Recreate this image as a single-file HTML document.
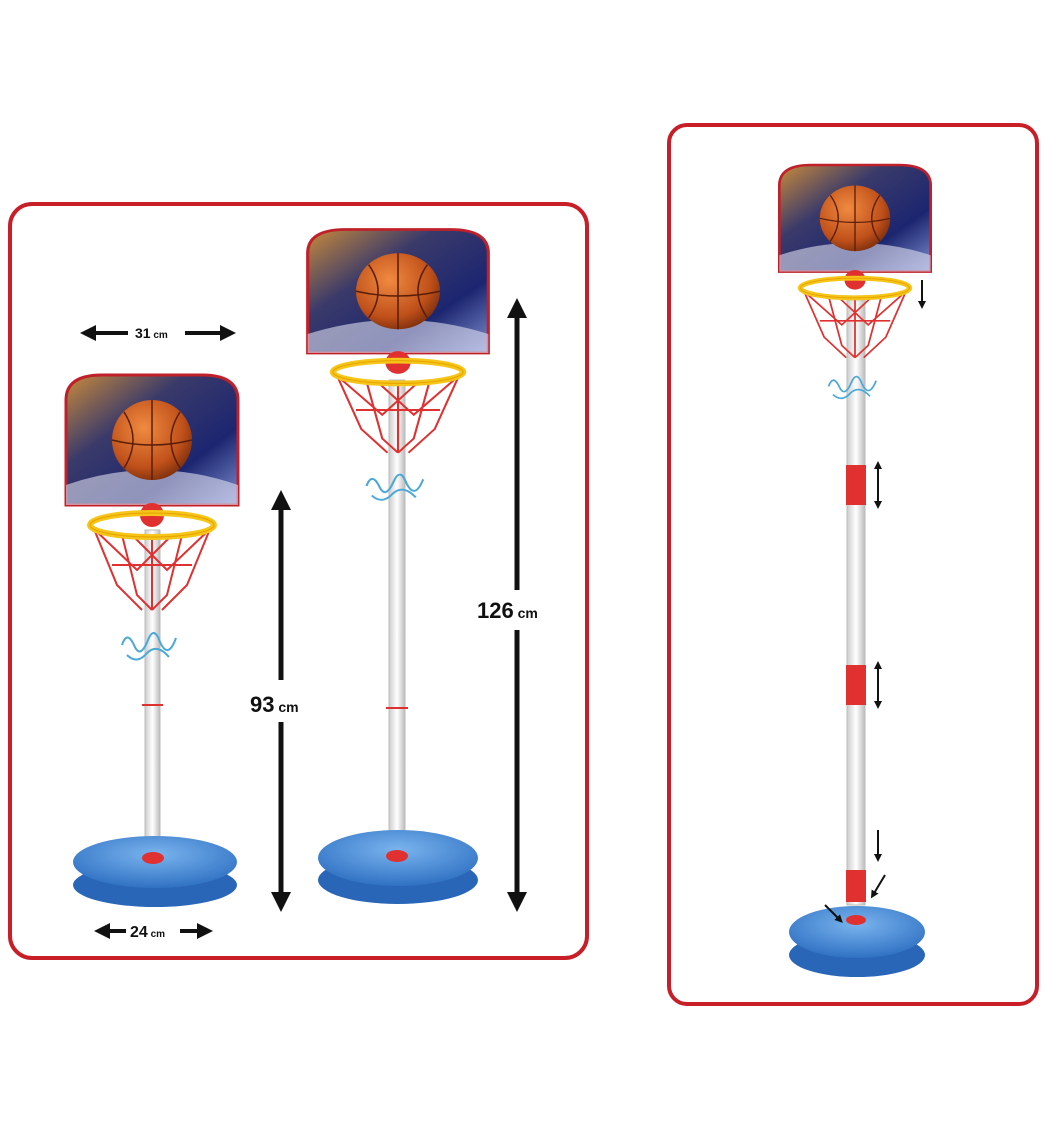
<!DOCTYPE html>
<html><head><meta charset="utf-8"><style>
html,body{margin:0;padding:0;background:#fff}
svg{display:block}
text{font-family:"Liberation Sans",sans-serif;font-weight:bold;fill:#111}
</style></head><body>
<svg width="1045" height="1140" viewBox="0 0 1045 1140" xmlns="http://www.w3.org/2000/svg">
<defs>
<linearGradient id="bb" x1="0" y1="0" x2="1" y2="1">
<stop offset="0" stop-color="#c98a3a"/><stop offset="0.35" stop-color="#3a3a6a"/><stop offset="0.7" stop-color="#1c2670"/><stop offset="1" stop-color="#7f8fd0"/></linearGradient>
<radialGradient id="ball" cx="0.4" cy="0.35" r="0.7"><stop offset="0" stop-color="#f08a40"/><stop offset="0.7" stop-color="#c0501a"/><stop offset="1" stop-color="#7a2e0c"/></radialGradient>
<linearGradient id="pole" x1="0" x2="1"><stop offset="0" stop-color="#ccc"/><stop offset="0.5" stop-color="#fff"/><stop offset="1" stop-color="#bbb"/></linearGradient>
<radialGradient id="base" cx="0.5" cy="0.35" r="0.7"><stop offset="0" stop-color="#7ab4ee"/><stop offset="1" stop-color="#2a6cc0"/></radialGradient>
<marker id="ah" viewBox="0 0 10 10" refX="5" refY="5" markerWidth="4" markerHeight="4" orient="auto-start-reverse"><path d="M0,0L10,5L0,10z" fill="#111"/></marker>
<g id="hoop">
<!-- centered at 0,0 = rim center; unit scale for width ~170 board -->
<path d="M-86,-20 L-86,-125 Q-86,-150 -50,-150 L50,-150 Q86,-150 86,-125 L86,-20 Z" fill="url(#bb)" stroke="#c0202a" stroke-width="3"/>
<path d="M-86,-40 Q0,-70 86,-40 L86,-20 L-86,-20Z" fill="#dde" opacity="0.6"/>
<circle cx="0" cy="-85" r="40" fill="url(#ball)"/>
<path d="M-40,-85 Q0,-75 40,-85 M0,-125 L0,-45 M-28,-113 Q-10,-85 -28,-57 M28,-113 Q10,-85 28,-57" stroke="#5a1e08" stroke-width="1.5" fill="none"/>
<circle cx="0" cy="-10" r="12" fill="#e03030"/>
<g stroke="#e03030" stroke-width="2" fill="none">
<path d="M-58,4 L-35,60 L-10,85 M-30,10 L-15,70 L0,85 M0,12 L0,85 M30,10 L15,70 L0,85 M58,4 L35,60 L10,85 M-58,4 L-15,45 L20,10 M58,4 L15,45 L-20,10 M-40,40 L40,40"/>
</g>
<ellipse cx="0" cy="0" rx="62" ry="12" fill="none" stroke="#f5c518" stroke-width="6"/>
<ellipse cx="0" cy="0" rx="62" ry="12" fill="none" stroke="#e8a000" stroke-width="1"/>
<path d="M-30,120 q5,-15 12,0 q6,15 14,-5 q6,-15 12,2 q8,18 16,-4 M-25,130 q10,10 20,-2 q10,-10 22,4" stroke="#4aa8d8" stroke-width="2" fill="none"/>
</g>
</defs>

<rect x="10" y="204" width="577" height="754" rx="22" fill="none" stroke="#c81e28" stroke-width="4"/>
<rect x="669" y="125" width="368" height="879" rx="18" fill="none" stroke="#c81e28" stroke-width="4"/>

<!-- left hoop -->
<rect x="145" y="530" width="15" height="315" fill="url(#pole)" stroke="#bbb"/>
<line x1="142" y1="705" x2="163" y2="705" stroke="#e03030" stroke-width="2"/>
<use href="#hoop" transform="translate(152,525)"/>
<ellipse cx="155" cy="885" rx="82" ry="22" fill="#2a66b8"/>
<ellipse cx="155" cy="862" rx="82" ry="26" fill="url(#base)"/>
<ellipse cx="153" cy="858" rx="11" ry="6" fill="#e03030"/>

<!-- middle hoop -->
<rect x="389" y="380" width="16" height="455" fill="url(#pole)" stroke="#bbb"/>
<line x1="386" y1="708" x2="408" y2="708" stroke="#e03030" stroke-width="2"/>
<use href="#hoop" transform="translate(398,372) scale(1.05,0.95)"/>
<ellipse cx="398" cy="880" rx="80" ry="24" fill="#2a66b8"/>
<ellipse cx="398" cy="858" rx="80" ry="28" fill="url(#base)"/>
<ellipse cx="397" cy="856" rx="11" ry="6" fill="#e03030"/>

<!-- dimension arrows -->
<line x1="281" y1="500" x2="281" y2="680" stroke="#111" stroke-width="5" marker-start="url(#ah)"/>
<line x1="281" y1="722" x2="281" y2="902" stroke="#111" stroke-width="5" marker-end="url(#ah)"/>
<text x="250" y="712" font-size="22">93<tspan font-size="14"> cm</tspan></text>
<line x1="517" y1="308" x2="517" y2="590" stroke="#111" stroke-width="5" marker-start="url(#ah)"/>
<line x1="517" y1="630" x2="517" y2="902" stroke="#111" stroke-width="5" marker-end="url(#ah)"/>
<text x="477" y="618" font-size="22">126<tspan font-size="14"> cm</tspan></text>
<line x1="88" y1="333" x2="128" y2="333" stroke="#111" stroke-width="4" marker-start="url(#ah)"/>
<line x1="185" y1="333" x2="228" y2="333" stroke="#111" stroke-width="4" marker-end="url(#ah)"/>
<text x="135" y="338" font-size="14">31<tspan font-size="10"> cm</tspan></text>
<line x1="102" y1="931" x2="126" y2="931" stroke="#111" stroke-width="4" marker-start="url(#ah)"/>
<line x1="180" y1="931" x2="205" y2="931" stroke="#111" stroke-width="4" marker-end="url(#ah)"/>
<text x="130" y="937" font-size="16">24<tspan font-size="10"> cm</tspan></text>

<!-- right hoop -->
<rect x="847" y="300" width="18" height="605" fill="url(#pole)" stroke="#bbb"/>
<rect x="846" y="465" width="20" height="40" fill="#e03030"/>
<rect x="846" y="665" width="20" height="40" fill="#e03030"/>
<rect x="846" y="870" width="20" height="32" fill="#e03030"/>
<use href="#hoop" transform="translate(855,288) scale(0.88,0.82)"/>
<ellipse cx="857" cy="955" rx="68" ry="22" fill="#2a66b8"/>
<ellipse cx="857" cy="932" rx="68" ry="26" fill="url(#base)"/>
<ellipse cx="856" cy="920" rx="10" ry="5" fill="#e03030"/>
<g stroke="#111" stroke-width="2">
<line x1="922" y1="280" x2="922" y2="305" marker-end="url(#ah)"/>
<line x1="878" y1="465" x2="878" y2="505" marker-start="url(#ah)" marker-end="url(#ah)"/>
<line x1="878" y1="665" x2="878" y2="705" marker-start="url(#ah)" marker-end="url(#ah)"/>
<line x1="878" y1="830" x2="878" y2="858" marker-end="url(#ah)"/>
<line x1="885" y1="875" x2="873" y2="895" marker-end="url(#ah)"/>
<line x1="825" y1="905" x2="840" y2="920" marker-end="url(#ah)"/>
</g>
</svg>
</body></html>
